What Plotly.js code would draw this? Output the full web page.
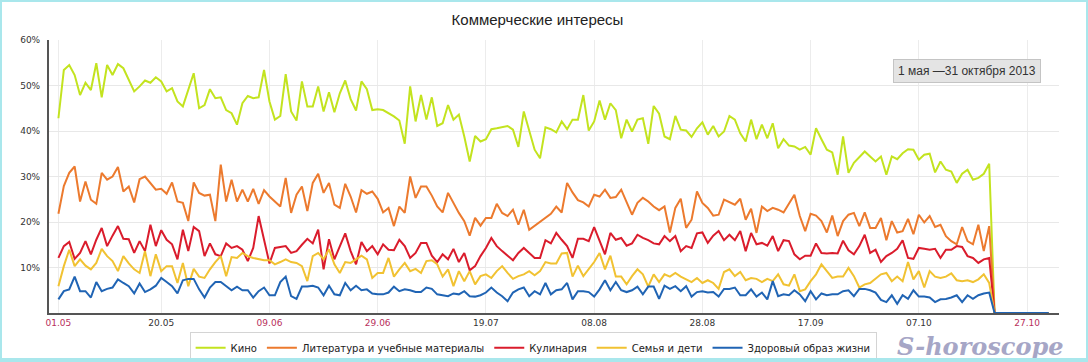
<!DOCTYPE html>
<html>
<head>
<meta charset="utf-8">
<script src="https://cdn.plot.ly/plotly-3.0.1.min.js"></script>
<style>
  html, body { margin: 0; padding: 0; background: #fff; }
  #wrap { position: relative; width: 1088px; height: 362px; }
  #chart { width: 1088px; height: 362px; }
  #frame { position: absolute; left: 0; top: 0; width: 1088px; height: 362px; box-sizing: border-box;
           border: 2px solid #a9e7ec; border-bottom-width: 4px; pointer-events: none; }
</style>
</head>
<body>
<div id="wrap"><div id="chart"></div><div id="frame"></div></div>
<script>
// Start date of the daily series (1 May 2013 – 31 Oct 2013)
const startDate = '2013-05-01';

const seriesNames = ['Кино', 'Литература и учебные материалы', 'Кулинария', 'Семья и дети', 'Здоровый образ жизни'];
const seriesColors = ['#c3e31f', '#ec7a2e', '#da1c2c', '#f1c232', '#2064b4'];

const kino = [
  42.8, 53.4, 54.5, 52.3, 47.9, 50.6, 49.0, 54.9, 47.4, 54.5,
  52.3, 54.7, 53.8, 51.2, 48.7, 49.8, 51.1, 50.6, 51.8, 50.9,
  48.7, 49.4, 46.5, 45.4, 49.0, 52.7, 45.0, 45.7, 49.2, 47.2,
  47.4, 44.6, 43.9, 41.4, 46.1, 47.7, 47.2, 47.4, 53.4, 46.5,
  42.5, 43.3, 52.5, 44.3, 42.3, 50.9, 45.4, 45.4, 49.8, 44.3,
  48.5, 44.1, 48.3, 51.1, 47.0, 44.5, 50.9, 49.2, 44.6, 44.8,
  44.6, 43.9, 43.2, 42.3, 37.2, 49.8, 42.1, 47.9, 42.5, 47.4,
  41.1, 41.7, 45.7, 42.5, 43.6, 38.8, 33.3, 38.9, 37.7, 38.2,
  40.4, 40.6, 40.8, 41.1, 40.3, 36.5, 44.3, 40.3, 35.9, 34.0,
  40.8, 40.4, 39.7, 42.1, 40.4, 42.5, 42.5, 47.9, 40.1, 42.1,
  46.7, 42.5, 46.1, 44.6, 38.4, 42.5, 39.9, 42.5, 42.8, 37.2,
  45.5, 43.8, 38.8, 38.2, 43.3, 40.3, 40.1, 38.7, 40.6, 41.9,
  39.2, 41.1, 38.8, 39.9, 43.3, 42.5, 39.5, 37.7, 42.5, 38.2,
  41.4, 38.4, 41.7, 36.2, 38.2, 36.8, 36.6, 35.9, 36.5, 34.8,
  40.6, 38.2, 35.9, 35.3, 30.4, 38.8, 30.8, 33.0, 34.3, 35.5,
  34.4, 33.3, 34.4, 30.4, 34.4, 33.8, 35.1, 36.0, 35.9, 33.7,
  34.8, 35.0, 30.9, 33.3, 31.5, 31.1, 28.6, 30.6, 31.5, 29.3,
  29.7, 30.6, 32.8,
  0, 0, 0, 0, 0, 0, 0, 0, 0, 0, 0
];

const literatura = [
  21.8, 27.9, 30.8, 32.2, 24.5, 28.9, 24.9, 24.0, 30.8, 29.3,
  30.0, 32.1, 26.7, 27.8, 24.3, 29.4, 30.0, 28.6, 27.1, 27.3,
  26.2, 28.7, 24.5, 24.2, 20.2, 28.7, 26.4, 25.8, 26.0, 20.2,
  32.6, 24.5, 29.3, 24.5, 27.1, 24.5, 27.3, 24.0, 27.0, 25.6,
  24.5, 23.4, 29.7, 22.0, 26.0, 27.8, 22.4, 28.6, 30.6, 26.4,
  28.6, 23.8, 23.1, 28.4, 25.6, 22.1, 27.0, 26.2, 26.7, 25.1,
  22.1, 23.1, 19.1, 23.4, 22.0, 30.0, 25.3, 27.8, 27.8, 25.8,
  23.4, 22.1, 26.4, 24.2, 22.0, 20.2, 17.0, 20.9, 19.2, 20.9,
  20.9, 24.0, 22.0, 21.3, 22.7, 19.4, 22.7, 18.3, 19.2, 20.2,
  20.9, 21.8, 23.4, 22.1, 28.6, 26.5, 24.8, 24.3, 23.4, 26.0,
  25.6, 27.1, 25.3, 25.5, 27.1, 24.2, 21.6, 24.2, 25.3, 24.5,
  23.4, 22.6, 23.4, 17.7, 23.1, 25.1, 18.7, 20.5, 26.7, 24.2,
  23.1, 21.4, 21.6, 24.9, 24.3, 23.8, 25.1, 20.5, 22.9, 17.6,
  23.4, 22.4, 23.1, 22.7, 22.1, 24.0, 26.0, 21.3, 18.0, 21.8,
  21.4, 20.2, 17.7, 21.4, 16.9, 20.2, 21.6, 22.0, 19.1, 22.1,
  18.7, 18.7, 20.9, 16.0, 20.2, 17.7, 18.0, 20.7, 17.3, 21.6,
  19.9, 21.3, 18.9, 19.4, 16.9, 15.8, 15.1, 18.9, 15.8, 15.1,
  19.4, 13.6, 19.1,
  0, 0, 0, 0, 0, 0, 0, 0, 0, 0, 0
];

const kulinaria = [
  12.1, 14.7, 15.6, 11.9, 13.2, 15.8, 12.9, 16.1, 18.7, 14.7,
  17.0, 19.1, 16.3, 16.2, 13.2, 15.8, 13.6, 19.4, 14.7, 18.2,
  16.1, 15.1, 11.8, 18.3, 13.6, 18.9, 18.0, 12.5, 15.3, 12.9,
  12.5, 15.3, 14.3, 14.7, 13.9, 11.4, 14.3, 21.3, 16.1, 10.9,
  14.3, 14.5, 14.7, 13.2, 13.6, 15.0, 16.3, 15.3, 18.3, 9.6,
  16.2, 11.8, 14.8, 17.5, 13.6, 10.7, 15.6, 13.6, 14.7, 12.9,
  15.1, 13.9, 13.8, 16.1, 14.7, 12.1, 13.2, 15.4, 15.4, 12.6,
  11.2, 12.9, 11.8, 14.1, 11.2, 13.2, 9.4, 10.3, 12.5, 14.3,
  16.5, 14.7, 13.6, 12.5, 11.6, 13.2, 14.3, 13.2, 12.1, 12.1,
  16.0, 15.3, 17.6, 16.1, 14.7, 12.1, 16.3, 16.3, 15.8, 18.9,
  16.1, 12.9, 17.6, 16.1, 16.5, 14.8, 15.3, 17.2, 16.5, 16.0,
  15.3, 15.1, 16.9, 15.8, 16.9, 13.6, 14.7, 14.3, 17.5, 17.7,
  15.4, 17.0, 18.0, 16.0, 17.2, 16.0, 18.0, 13.6, 17.6, 15.1,
  15.4, 14.8, 16.9, 13.6, 16.0, 15.8, 12.9, 11.8, 12.6, 12.6,
  15.3, 13.2, 13.1, 13.2, 13.1, 15.9, 13.8, 12.9, 14.7, 17.2,
  13.2, 13.9, 11.2, 12.5, 13.2, 14.1, 16.0, 12.1, 11.9, 14.3,
  14.1, 13.9, 14.1, 12.1, 13.9, 13.9, 14.7, 14.5, 12.5, 12.1,
  11.0, 11.8, 12.1,
  0, 0, 0, 0, 0, 0, 0, 0, 0, 0, 0
];

const semya = [
  5.9, 10.3, 13.9, 10.3, 11.8, 10.4, 9.6, 11.0, 14.1, 12.5,
  11.4, 9.2, 12.5, 10.9, 9.6, 8.8, 13.6, 8.1, 12.9, 9.2,
  10.3, 10.3, 6.6, 11.0, 5.9, 9.7, 8.0, 7.7, 9.6, 11.2,
  12.5, 8.1, 12.3, 12.1, 13.2, 12.5, 12.1, 11.8, 11.6, 11.6,
  10.7, 11.2, 11.8, 11.2, 11.0, 10.3, 7.0, 12.5, 13.2, 11.8,
  14.0, 10.7, 8.8, 11.2, 11.0, 11.8, 12.6, 11.8, 7.7, 8.8,
  8.8, 12.1, 8.0, 9.6, 11.0, 9.2, 9.7, 8.8, 11.4, 11.6,
  10.7, 8.0, 9.6, 5.9, 9.2, 7.0, 9.2, 6.3, 8.1, 8.5,
  7.7, 9.2, 10.3, 8.8, 7.5, 8.1, 8.5, 9.2, 8.3, 9.2,
  11.2, 10.9, 10.9, 13.1, 13.2, 8.0, 10.4, 8.1, 9.7, 11.2,
  13.2, 9.6, 12.6, 8.0, 8.0, 6.3, 8.1, 9.6, 8.5, 5.8,
  8.5, 6.8, 8.5, 8.0, 8.8, 8.0, 7.4, 6.8, 7.7, 6.6,
  7.2, 6.6, 5.3, 9.0, 9.6, 8.1, 9.0, 7.2, 7.7, 7.5,
  6.8, 7.5, 7.0, 8.5, 6.3, 6.0, 8.5, 4.8, 5.2, 7.0,
  8.5, 10.7, 9.2, 7.7, 8.0, 8.0, 9.9, 8.1, 5.6, 6.3,
  6.6, 7.5, 8.5, 8.8, 7.0, 8.0, 7.0, 11.2, 7.4, 9.2,
  5.6, 9.2, 8.0, 7.7, 8.0, 8.7, 7.2, 7.0, 7.2, 6.8,
  7.4, 8.5, 6.6,
  0, 0, 0, 0, 0, 0, 0, 0, 0, 0, 0
];

const zdorovie = [
  3.0, 4.8, 5.2, 8.0, 4.8, 4.8, 3.4, 6.8, 4.8, 5.3,
  5.6, 7.4, 6.6, 5.9, 4.3, 6.5, 4.6, 5.2, 6.0, 7.7,
  6.8, 5.9, 4.3, 7.2, 7.5, 7.5, 5.2, 3.4, 5.6, 6.8,
  6.8, 5.9, 5.0, 5.8, 5.0, 5.0, 3.4, 4.8, 5.6, 3.9,
  3.9, 6.8, 8.0, 3.7, 3.1, 5.8, 5.8, 6.0, 5.6, 3.9,
  6.0, 4.1, 3.9, 6.6, 5.0, 6.0, 5.0, 5.2, 4.3, 4.1,
  4.1, 4.5, 5.8, 4.8, 5.2, 5.0, 4.6, 4.6, 5.6, 5.3,
  4.1, 3.9, 3.7, 4.3, 4.1, 4.8, 3.7, 3.6, 3.9, 4.5,
  5.6, 4.5, 3.7, 2.6, 4.5, 5.2, 5.6, 3.7, 4.8, 4.1,
  6.6, 4.1, 5.0, 5.2, 6.6, 3.0, 4.8, 4.8, 4.6, 3.6,
  5.2, 7.2, 5.0, 6.8, 5.0, 4.6, 5.0, 5.8, 4.1, 5.8,
  5.8, 3.1, 6.0, 5.3, 5.9, 4.8, 5.9, 3.6, 4.6, 4.8,
  4.5, 4.6, 3.6, 5.3, 5.3, 5.6, 3.9, 3.9, 5.2, 3.6,
  4.5, 3.0, 7.0, 3.7, 4.1, 3.9, 5.0, 4.1, 2.6, 4.8,
  3.0, 4.3, 3.9, 4.1, 4.1, 4.8, 5.0, 3.7, 5.3, 5.3,
  5.0, 4.5, 2.9, 2.4, 3.9, 2.0, 3.9, 3.1, 5.0, 3.6,
  3.6, 3.4, 2.4, 3.0, 3.1, 3.4, 3.9, 2.4, 3.9, 3.1,
  3.9, 4.3, 4.5,
  0, 0, 0, 0, 0, 0, 0, 0, 0, 0, 0
];

const xTickDates = ['2013-05-01', '2013-05-20', '2013-06-09', '2013-06-29', '2013-07-19',
                    '2013-08-08', '2013-08-28', '2013-09-17', '2013-10-07', '2013-10-27'];
const xTickLabels = ['01.05', '20.05', '09.06', '29.06', '19.07', '08.08', '28.08', '17.09', '07.10', '27.10'];
const xTickHoliday = [true, false, true, true, false, false, false, false, false, true];
const yTickVals = [10, 20, 30, 40, 50, 60];
const yTickLabels = ['10%', '20%', '30%', '40%', '50%', '60%'];

const titleText = 'Коммерческие интересы';
const periodText = '1 мая —31 октября 2013';
const watermarkText = 'S-horoscope';

// daily date categories
function dayList(start, n) {
  const out = [];
  const d0 = new Date(start + 'T00:00:00Z');
  for (let i = 0; i < n; i++) {
    const d = new Date(d0.getTime() + i * 86400000);
    out.push(d.toISOString().slice(0, 10));
  }
  return out;
}
const dates = dayList(startDate, kino.length);

const allSeries = [kino, literatura, kulinaria, semya, zdorovie];
const traces = allSeries.map((vals, i) => ({
  type: 'scatter', mode: 'lines',
  x: dates, y: vals, name: seriesNames[i],
  line: { color: seriesColors[i], width: 2 },
  hoverinfo: 'skip'
}));

const tickText = xTickLabels.map((t, i) =>
  xTickHoliday[i] ? '<span style="color:#b8305c">' + t + '</span>' : t);

const layout = {
  width: 1088, height: 362,
  margin: { l: 49, r: 29, t: 40, b: 49 },
  paper_bgcolor: '#ffffff', plot_bgcolor: '#ffffff',
  showlegend: true,
  title: {
    text: titleText, xref: 'container', x: 0.494, y: 0.945, yanchor: 'middle',
    font: { family: 'Liberation Sans, Arial, sans-serif', size: 15, color: '#222' }
  },
  xaxis: {
    type: 'date',
    range: ['2013-04-29 06:14', '2013-11-01 21:36'],
    tickvals: xTickDates, ticktext: tickText,
    ticks: '', showline: true, linecolor: '#555', linewidth: 2,
    showgrid: true, gridcolor: '#ececec', gridwidth: 1, zeroline: false,
    tickfont: { family: 'DejaVu Sans, Verdana, sans-serif', size: 9, color: '#333' },
    fixedrange: true
  },
  yaxis: {
    range: [0, 60], tickvals: yTickVals, ticktext: yTickLabels,
    ticks: '', showline: true, linecolor: '#555', linewidth: 2,
    showgrid: true, gridcolor: '#e8e8e8', gridwidth: 1, zeroline: false,
    ticklabelstandoff: 5,
    tickfont: { family: 'DejaVu Sans, Verdana, sans-serif', size: 9, color: '#333' },
    fixedrange: true
  },
  legend: {
    orientation: 'h', xref: 'container', yref: 'container',
    x: 0.49, xanchor: 'center', y: 0.082, yanchor: 'top',
    bgcolor: '#ffffff', bordercolor: '#d4d4d4', borderwidth: 1,
    font: { family: 'DejaVu Sans, Verdana, sans-serif', size: 10, color: '#222' },
    itemwidth: 30
  },
  annotations: [
    {
      text: periodText, xref: 'paper', yref: 'paper', x: 0.909, y: 0.886,
      xanchor: 'center', yanchor: 'middle', showarrow: false,
      font: { family: 'Liberation Sans, Arial, sans-serif', size: 12, color: '#333' },
      bgcolor: '#e4e4e4', bordercolor: '#c4c4c4', borderwidth: 1, borderpad: 4
    },
    {
      text: '<b><i>' + watermarkText + '</i></b>', xref: 'paper', yref: 'paper', x: 0.922, y: -0.122,
      xanchor: 'center', yanchor: 'middle', showarrow: false, borderpad: 0,
      font: { family: 'DejaVu Serif, serif', size: 24, color: '#a6a6c6' }
    }
  ]
};

Plotly.newPlot('chart', traces, layout, { displayModeBar: false, staticPlot: true });
</script>
</body>
</html>
